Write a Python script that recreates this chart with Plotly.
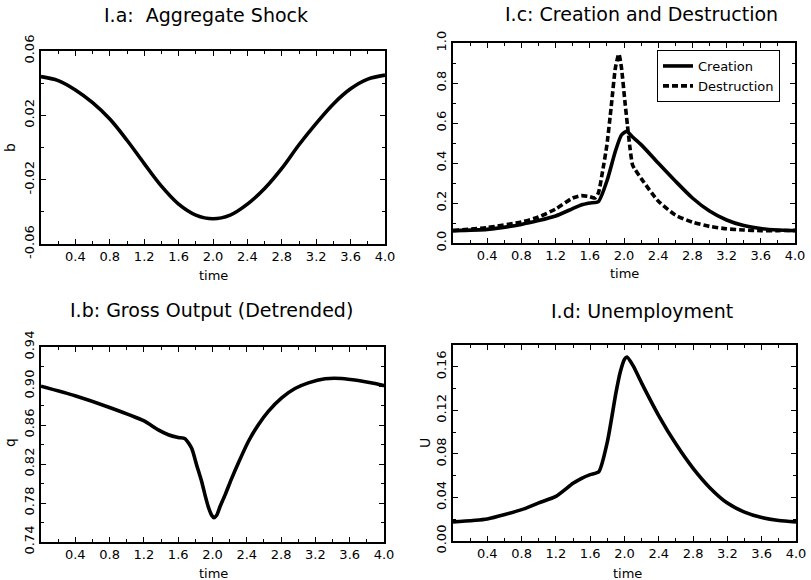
import plotly.graph_objects as go

# ---------------- data ----------------
# I.a Aggregate shock
t_a = [0.0, 0.2, 0.4, 0.6, 0.8, 1.0, 1.2, 1.4, 1.6, 1.8, 2.0,
       2.2, 2.4, 2.6, 2.8, 3.0, 3.2, 3.4, 3.6, 3.8, 4.0]
b_vals = [0.0441, 0.0416, 0.0358, 0.0279, 0.0177, 0.0045, -0.0100, -0.0240,
          -0.0352, -0.0420, -0.0443, -0.0420, -0.0352, -0.0255, -0.0130,
          0.0017, 0.0150, 0.0271, 0.0365, 0.0425, 0.0450]

# I.c Creation and destruction
t_cre = [0.0, 0.4, 0.8, 1.0, 1.2, 1.4, 1.5, 1.6, 1.7, 1.8, 1.9, 1.97, 2.03,
         2.1, 2.2, 2.4, 2.6, 2.8, 3.0, 3.2, 3.4, 3.6, 3.8, 4.0]
creation = [0.062, 0.068, 0.093, 0.112, 0.135, 0.172, 0.190, 0.200, 0.207,
            0.310, 0.460, 0.540, 0.558, 0.530, 0.492, 0.400, 0.310, 0.225,
            0.160, 0.115, 0.087, 0.072, 0.065, 0.062]
t_des = [0.0, 0.4, 0.8, 1.0, 1.2, 1.4, 1.5, 1.6, 1.66, 1.70, 1.75, 1.8, 1.85,
         1.9, 1.94, 1.97, 2.01, 2.04, 2.07, 2.10, 2.13, 2.21, 2.4, 2.6, 2.8,
         3.0, 3.2, 3.4, 3.6, 3.8, 4.0]
destruction = [0.062, 0.077, 0.105, 0.130, 0.170, 0.225, 0.237, 0.232, 0.225,
               0.250, 0.360, 0.490, 0.680, 0.877, 0.945, 0.877, 0.710, 0.590,
               0.475, 0.390, 0.367, 0.317, 0.210, 0.140, 0.104, 0.083, 0.071,
               0.065, 0.062, 0.062, 0.063]

# I.b Gross output (detrended)
t_b = [0.0, 0.397, 0.80, 1.197, 1.368, 1.485, 1.60, 1.68, 1.757, 1.815, 1.874,
       1.913, 1.951, 1.99, 2.017, 2.049, 2.087, 2.146, 2.224, 2.30, 2.418,
       2.535, 2.651, 2.807, 2.962, 3.118, 3.312, 3.506, 3.70, 3.895, 4.0]
q_vals = [0.8998, 0.890, 0.878, 0.8644, 0.855, 0.850, 0.8472, 0.846, 0.8362,
          0.819, 0.8019, 0.7881, 0.7761, 0.7675, 0.7650, 0.7675, 0.7761,
          0.7881, 0.8053, 0.8208, 0.8431, 0.8603, 0.874, 0.8878, 0.8974,
          0.9032, 0.9074, 0.9077, 0.9056, 0.9025, 0.9003]

# I.d Unemployment
t_d = [0.0, 0.4, 0.8, 1.0, 1.2, 1.4, 1.5, 1.6, 1.7, 1.8, 1.9, 1.95, 2.0,
       2.03, 2.1, 2.2, 2.4, 2.6, 2.8, 3.0, 3.2, 3.4, 3.6, 3.8, 4.0]
u_vals = [0.0176, 0.0203, 0.0288, 0.035, 0.041, 0.053, 0.0576, 0.061, 0.0636,
          0.091, 0.136, 0.155, 0.167, 0.169, 0.161, 0.145, 0.115, 0.089,
          0.0667, 0.0485, 0.0348, 0.0265, 0.0215, 0.0188, 0.0176]

# tick labels
x_tickvals = [0.4, 0.8, 1.2, 1.6, 2.0, 2.4, 2.8, 3.2, 3.6, 4.0]
x_ticktext = ["0.4", "0.8", "1.2", "1.6", "2.0", "2.4", "2.8", "3.2", "3.6", "4.0"]
a_tickvals = [-0.06, -0.02, 0.02, 0.06]
a_ticktext = ["-0.06", "-0.02", "0.02", "0.06"]
c_tickvals = [0.0, 0.2, 0.4, 0.6, 0.8, 1.0]
c_ticktext = ["0.0", "0.2", "0.4", "0.6", "0.8", "1.0"]
b_tickvals = [0.74, 0.78, 0.82, 0.86, 0.90, 0.94]
b_ticktext = ["0.74", "0.78", "0.82", "0.86", "0.90", "0.94"]
d_tickvals = [0.0, 0.04, 0.08, 0.12, 0.16]
d_ticktext = ["0.00", "0.04", "0.08", "0.12", "0.16"]

titles = ["I.a:  Aggregate Shock", "I.c: Creation and Destruction",
          "I.b: Gross Output (Detrended)", "I.d: Unemployment"]

# ---------------- figure ----------------
W, H = 811, 580
FONT = "DejaVu Sans"
LW = 3.6

fig = go.Figure()
fig.add_trace(go.Scatter(x=t_a, y=b_vals, mode="lines", xaxis="x", yaxis="y",
                         line=dict(color="black", width=LW, shape="spline"),
                         showlegend=False))
fig.add_trace(go.Scatter(x=t_cre, y=creation, mode="lines", xaxis="x2", yaxis="y2",
                         name="Creation",
                         line=dict(color="black", width=LW, shape="spline", smoothing=0.6)))
fig.add_trace(go.Scatter(x=t_des, y=destruction, mode="lines", xaxis="x2", yaxis="y2",
                         name="Destruction",
                         line=dict(color="black", width=LW, dash="6px,3px",
                                   shape="spline", smoothing=0.6)))
fig.add_trace(go.Scatter(x=t_b, y=q_vals, mode="lines", xaxis="x3", yaxis="y3",
                         line=dict(color="black", width=LW, shape="spline", smoothing=0.6),
                         showlegend=False))
fig.add_trace(go.Scatter(x=t_d, y=u_vals, mode="lines", xaxis="x4", yaxis="y4",
                         line=dict(color="black", width=LW, shape="spline", smoothing=0.6),
                         showlegend=False))


def px_x(p):
    return p / W


def px_y(p):
    return 1 - p / H


def xax(l, r, anchor):
    return dict(domain=[px_x(l), px_x(r)], anchor=anchor, range=[0, 4],
                automargin=False,
                tickmode="array", tickvals=x_tickvals, ticktext=x_ticktext,
                ticks="inside", ticklen=5, tickwidth=1.2, tickcolor="black",
                minor=dict(tick0=0, dtick=0.2, ticks="inside", ticklen=3,
                           tickcolor="black", showgrid=False),
                showline=True, linecolor="black", linewidth=1.5, mirror="ticks",
                showgrid=False, zeroline=False,
                tickfont=dict(family=FONT, size=13, color="black"))


def yax(t, b, anchor, rng, tv, tt, minor_dt):
    return dict(domain=[px_y(b), px_y(t)], anchor=anchor, range=rng,
                automargin=False,
                tickmode="array", tickvals=tv, ticktext=tt, tickangle=-90,
                ticks="inside", ticklen=5, tickwidth=1.2, tickcolor="black",
                minor=dict(tick0=0, dtick=minor_dt, ticks="inside", ticklen=3,
                           tickcolor="black", showgrid=False),
                showline=True, linecolor="black", linewidth=1.5, mirror="ticks",
                showgrid=False, zeroline=False,
                tickfont=dict(family=FONT, size=13, color="black"))


fig.update_layout(
    template="none",
    width=W, height=H,
    margin=dict(l=0, r=0, t=0, b=0, pad=0, autoexpand=False),
    paper_bgcolor="white", plot_bgcolor="white",
    font=dict(family=FONT, size=13, color="black"),
    xaxis=xax(41, 385, "y"),
    yaxis=yax(51, 244, "x", [-0.06, 0.06], a_tickvals, a_ticktext, 0.02),
    xaxis2=xax(453, 795, "y2"),
    yaxis2=yax(43, 243, "x2", [0, 1.0], c_tickvals, c_ticktext, 0.1),
    xaxis3=xax(41, 384, "y3"),
    yaxis3=yax(347, 542, "x3", [0.74, 0.94], b_tickvals, b_ticktext, 0.02),
    xaxis4=xax(453, 796, "y4"),
    yaxis4=yax(345, 541, "x4", [0, 0.18], d_tickvals, d_ticktext, 0.02),
    legend=dict(x=px_x(657), y=px_y(50), xanchor="left", yanchor="top",
                bordercolor="black", borderwidth=1, bgcolor="white",
                font=dict(family=FONT, size=13, color="black"),
                tracegroupgap=0, itemwidth=30),
)

ann = []
for text, cx, cy in [(titles[0], 206, 15), (titles[1], 641, 14),
                     (titles[2], 211, 310), (titles[3], 642, 311)]:
    ann.append(dict(text=text, x=px_x(cx), y=px_y(cy), xref="paper", yref="paper",
                    xanchor="center", yanchor="middle", showarrow=False,
                    font=dict(family=FONT, size=19, color="black")))
for cx, cy in [(213, 275), (624, 273), (213, 573), (627, 573)]:
    ann.append(dict(text="time", x=px_x(cx), y=px_y(cy), xref="paper", yref="paper",
                    xanchor="center", yanchor="middle", showarrow=False,
                    font=dict(family=FONT, size=13, color="black")))
for text, cx, cy in [("b", 10, 148), ("q", 10, 443), ("U", 425, 443)]:
    ann.append(dict(text=text, x=px_x(cx), y=px_y(cy), xref="paper", yref="paper",
                    xanchor="center", yanchor="middle", showarrow=False, textangle=-90,
                    font=dict(family=FONT, size=14, color="black")))
fig.update_layout(annotations=ann)

fig.write_html("out.html")
